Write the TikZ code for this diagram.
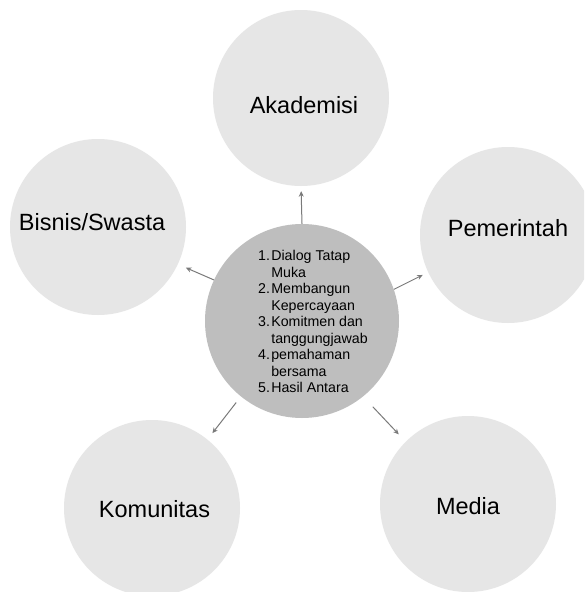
\documentclass[tikz,border=0pt]{standalone}
\usepackage{fontspec}
\setmainfont{Liberation Sans}
\usetikzlibrary{arrows.meta}
\definecolor{outerfill}{HTML}{E6E6E6}
\definecolor{centerfill}{HTML}{BEBEBE}
\definecolor{arrowcol}{HTML}{7A7A7A}
\begin{document}
\begin{tikzpicture}[x=1pt,y=-1pt,
  outer/.style={circle, fill=outerfill, minimum size=176pt, inner sep=0pt},
  centre/.style={circle, fill=centerfill, minimum size=194pt, inner sep=0pt},
  lbl/.style={anchor=base, inner sep=0pt, font=\fontsize{23.5}{28}\selectfont},
  conn/.style={draw=arrowcol, line width=1pt, -{Stealth[length=5.5pt,width=5pt]}}
]
\useasboundingbox (0,0) rectangle (584,592);
\clip (0,0) rectangle (584,592);
\fill[white] (0,0) rectangle (584,592);

% circles
\node[outer] (aka) at (301,98) {};
\node[outer] (bis) at (98,227) {};
\node[outer] (pem) at (508,235) {};
\node[outer] (kom) at (152,508) {};
\node[outer] (med) at (468,504) {};
\node[centre] (c) at (302,321) {};

% labels
\node[lbl] (akat) at (304,113) {Akademisi};
\node[lbl] (bist) at (92,230.7) {Bisnis/Swasta};
\node[lbl] (pemt) at (508,236.7) {Pemerintah};
\node[lbl] (komt) at (154.5,517) {Komunitas};
\node[lbl] (medt) at (468,514) {Media};

\node[anchor=north west, inner sep=0pt, font=\fontsize{14.2}{16.5}\selectfont] (list) at (258,249.2) {%
\begin{tabular}{@{}r@{\hspace{1.3pt}}l@{}}
1. & Dialog Tatap\\
   & Muka\\
2. & Membangun\\
   & Kepercayaan\\
3. & Komitmen dan\\
   & tanggungjawab\\
4. & pemahaman\\
   & bersama\\
5. & Hasil Antara
\end{tabular}};

% connectors
\draw[conn, shorten >=5pt] (c.90) -- (aka.270);
\draw[conn, shorten >=8.7pt] (c.155.8) -- (bis.335.6);
\draw[conn, shorten >=6pt] (c.19.3) -- (pem.205.2);
\draw[conn, shorten <=7.6pt, shorten >=8pt] (c.231.6) -- (kom.51.7);
\draw[conn, shorten <=14pt, shorten >=10pt] (c.309.1) -- (med.135.8);
\end{tikzpicture}
\end{document}
